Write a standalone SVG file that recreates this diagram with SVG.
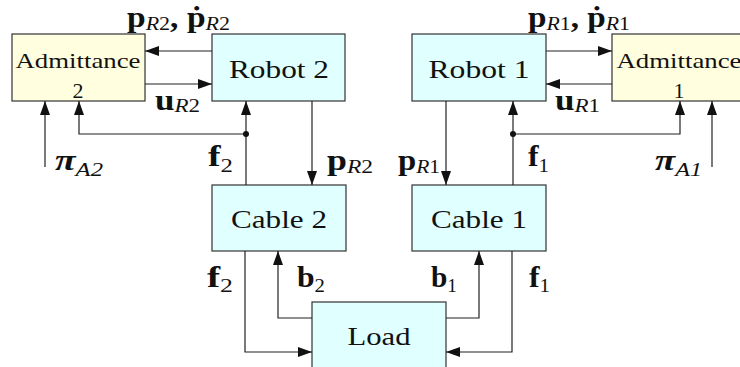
<svg xmlns="http://www.w3.org/2000/svg" width="740" height="367" viewBox="0 0 740 367">
<defs>
<style>
.box{stroke:#333;stroke-width:1.2}
.adm{fill:#ffffe0}
.cy{fill:#e0ffff}
.nt{font-family:"Liberation Serif","DejaVu Serif",serif;fill:#111;text-anchor:middle}
.big{font-size:26px}
.mid{font-size:22px}
.ln{fill:none;stroke:#222;stroke-width:1.2}
.ar{marker-end:url(#ah)}
.m{font-family:"Liberation Serif","DejaVu Serif",serif;fill:#111;font-size:29px;font-weight:bold}
.s{font-size:19px;font-weight:normal}
.i{font-style:italic}
</style>
<marker id="ah" markerUnits="userSpaceOnUse" markerWidth="15" markerHeight="11" refX="14" refY="5" orient="auto">
<path d="M0,0 L14,5 L0,10 z" fill="#111"/>
</marker>
</defs>
<rect width="740" height="367" fill="#fff"/>

<g id="admittance2">
<rect class="box adm" x="12" y="34" width="133" height="67"/>
<text class="nt mid" x="78" y="68" textLength="125" lengthAdjust="spacingAndGlyphs">Admittance</text>
<text class="nt mid" x="78" y="98">2</text>
</g>
<g id="robot2">
<rect class="box cy" x="212" y="34" width="133" height="67"/>
<text class="nt big" x="279" y="78" textLength="100" lengthAdjust="spacingAndGlyphs">Robot 2</text>
</g>
<g id="robot1">
<rect class="box cy" x="412" y="34" width="134" height="67"/>
<text class="nt big" x="479" y="78" textLength="101" lengthAdjust="spacingAndGlyphs">Robot 1</text>
</g>
<g id="admittance1">
<rect class="box adm" x="612" y="34" width="134" height="67"/>
<text class="nt mid" x="679" y="68" textLength="125" lengthAdjust="spacingAndGlyphs">Admittance</text>
<text class="nt mid" x="679" y="98">1</text>
</g>
<g id="cable2">
<rect class="box cy" x="212" y="185" width="134" height="66"/>
<text class="nt big" x="279" y="228" textLength="96" lengthAdjust="spacingAndGlyphs">Cable 2</text>
</g>
<g id="cable1">
<rect class="box cy" x="412" y="185" width="134" height="66"/>
<text class="nt big" x="479" y="228" textLength="96" lengthAdjust="spacingAndGlyphs">Cable 1</text>
</g>
<g id="load">
<rect class="box cy" x="312" y="302" width="134" height="70"/>
<text class="nt big" x="379" y="345" textLength="63" lengthAdjust="spacingAndGlyphs">Load</text>
</g>

<g id="connectors">
<path class="ln ar" d="M212,51 L145,51"/>
<path class="ln ar" d="M145,84 L212,84"/>
<path class="ln ar" d="M45,167 L45,101"/>
<path class="ln ar" d="M246,185 L246,101"/>
<path class="ln ar" d="M246,134 L79,134 L79,101"/>
<circle cx="246" cy="134" r="3" fill="#111"/>
<path class="ln ar" d="M312,101 L312,185"/>
<path class="ln ar" d="M546,51 L612,51"/>
<path class="ln ar" d="M612,84 L546,84"/>
<path class="ln ar" d="M446,101 L446,185"/>
<path class="ln ar" d="M513,185 L513,101"/>
<path class="ln ar" d="M513,134 L680,134 L680,101"/>
<circle cx="513" cy="134" r="3" fill="#111"/>
<path class="ln ar" d="M712,167 L712,101"/>
<path class="ln ar" d="M245,251 L245,352 L312,352"/>
<path class="ln ar" d="M312,318 L278,318 L278,251"/>
<path class="ln ar" d="M446,318 L479,318 L479,251"/>
<path class="ln ar" d="M512,251 L512,352 L446,352"/>
</g>

<g id="labels">
<text class="m" x="127" y="27" textLength="103" lengthAdjust="spacingAndGlyphs">p<tspan class="s" dy="3"><tspan class="i">R</tspan>2</tspan><tspan dy="-3">, ṗ</tspan><tspan class="s" dy="3"><tspan class="i">R</tspan>2</tspan></text>
<text class="m" x="155" y="110" textLength="45" lengthAdjust="spacingAndGlyphs">u<tspan class="s" dy="2"><tspan class="i">R</tspan>2</tspan></text>
<text class="m i" x="55" y="170" textLength="48" lengthAdjust="spacingAndGlyphs">π<tspan class="s" dy="6">A2</tspan></text>
<text class="m" x="208" y="166" textLength="25" lengthAdjust="spacingAndGlyphs">f<tspan class="s" dy="6">2</tspan></text>
<text class="m" x="327" y="170" textLength="46" lengthAdjust="spacingAndGlyphs">p<tspan class="s" dy="3"><tspan class="i">R</tspan>2</tspan></text>

<text class="m" x="528" y="27" textLength="102" lengthAdjust="spacingAndGlyphs">p<tspan class="s" dy="3"><tspan class="i">R</tspan>1</tspan><tspan dy="-3">, ṗ</tspan><tspan class="s" dy="3"><tspan class="i">R</tspan>1</tspan></text>
<text class="m" x="555" y="110" textLength="45" lengthAdjust="spacingAndGlyphs">u<tspan class="s" dy="2"><tspan class="i">R</tspan>1</tspan></text>
<text class="m i" x="655" y="170" textLength="47" lengthAdjust="spacingAndGlyphs">π<tspan class="s" dy="6">A1</tspan></text>
<text class="m" x="528" y="166" textLength="21" lengthAdjust="spacingAndGlyphs">f<tspan class="s" dy="6">1</tspan></text>
<text class="m" x="398" y="170" textLength="42" lengthAdjust="spacingAndGlyphs">p<tspan class="s" dy="3"><tspan class="i">R</tspan>1</tspan></text>

<text class="m" x="207" y="287" textLength="26" lengthAdjust="spacingAndGlyphs">f<tspan class="s" dy="5">2</tspan></text>
<text class="m" x="297" y="287" textLength="28" lengthAdjust="spacingAndGlyphs">b<tspan class="s" dy="5">2</tspan></text>
<text class="m" x="431" y="287" textLength="26" lengthAdjust="spacingAndGlyphs">b<tspan class="s" dy="5">1</tspan></text>
<text class="m" x="529" y="287" textLength="21" lengthAdjust="spacingAndGlyphs">f<tspan class="s" dy="5">1</tspan></text>
</g>
</svg>
